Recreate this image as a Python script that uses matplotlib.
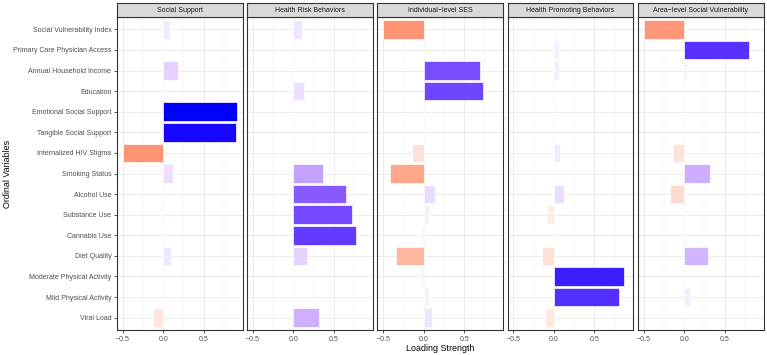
import matplotlib
matplotlib.use("Agg")
import matplotlib.pyplot as plt
import numpy as np

plt.rcParams["font.family"] = ["Liberation Sans", "DejaVu Sans"]

variables = [
    "Social Vulnerability Index",
    "Primary Care Physician Access",
    "Annual Household Income",
    "Education",
    "Emotional Social Support",
    "Tangible Social Support",
    "Internalized HIV Stigma",
    "Smoking Status",
    "Alcohol Use",
    "Substance Use",
    "Cannabis Use",
    "Diet Quality",
    "Moderate Physical Activity",
    "Mild Physical Activity",
    "Viral Load",
]

factors = [
    "Social Support",
    "Health Risk Behaviors",
    "Individual\u2212level SES",
    "Health Promoting Behaviors",
    "Area\u2212level Social Vulnerability",
]

social_support = [0.09, -0.01, 0.18, 0.01, 0.91, 0.90, -0.50, 0.12,
                  0.00, -0.04, -0.01, 0.095, 0.00, -0.02, -0.12]
health_risk = [0.10, 0.00, 0.00, 0.125, 0.00, 0.00, 0.00, 0.37,
               0.65, 0.72, 0.77, 0.17, 0.00, 0.00, 0.31]
individual_ses = [-0.50, 0.00, 0.70, 0.73, 0.00, 0.00, -0.14, -0.42,
                  0.14, 0.06, -0.04, -0.34, -0.05, 0.06, 0.10]
health_promoting = [0.01, 0.065, 0.065, 0.00, 0.00, 0.00, 0.08, 0.00,
                    0.13, -0.09, 0.01, -0.15, 0.86, 0.81, -0.11]
area_svi = [-0.49, 0.80, 0.04, 0.00, 0.00, 0.00, -0.135, 0.32,
            -0.17, 0.02, 0.02, 0.29, 0.00, 0.07, 0.02]

loadings = [social_support, health_risk, individual_ses, health_promoting, area_svi]


# diverging red-white-blue fill, interpolated in CIELAB like ggplot's gradient2
def srgb_to_lab(rgb):
    c = np.asarray(rgb, dtype=float)
    lin = np.where(c <= 0.04045, c / 12.92, ((c + 0.055) / 1.055) ** 2.4)
    m = np.array([[0.4124, 0.3576, 0.1805],
                  [0.2126, 0.7152, 0.0722],
                  [0.0193, 0.1192, 0.9505]])
    xyz = m @ lin / np.array([0.95047, 1.0, 1.08883])
    f = np.where(xyz > 0.008856, np.cbrt(xyz), 7.787 * xyz + 16 / 116)
    return np.array([116 * f[1] - 16, 500 * (f[0] - f[1]), 200 * (f[1] - f[2])])


def lab_to_srgb(lab):
    L, a, b = lab
    fy = (L + 16) / 116
    f = np.array([fy + a / 500, fy, fy - b / 200])
    xyz = np.where(f ** 3 > 0.008856, f ** 3, (f - 16 / 116) / 7.787)
    xyz = xyz * np.array([0.95047, 1.0, 1.08883])
    m = np.array([[3.2406, -1.5372, -0.4986],
                  [-0.9689, 1.8758, 0.0415],
                  [0.0557, -0.2040, 1.0570]])
    lin = np.clip(m @ xyz, 0, 1)
    c = np.where(lin <= 0.0031308, 12.92 * lin, 1.055 * lin ** (1 / 2.4) - 0.055)
    return np.clip(c, 0, 1)


lab_low = srgb_to_lab([1, 0, 0])
lab_mid = srgb_to_lab([1, 1, 1])
lab_high = srgb_to_lab([0, 0, 1])
vmax = max(abs(v) for col in loadings for v in col)


def fill_colour(v):
    t = v / vmax
    end = lab_high if t >= 0 else lab_low
    return lab_to_srgb(lab_mid + abs(t) * (end - lab_mid))


W, H = 767, 355
fig = plt.figure(figsize=(W / 100, H / 100), dpi=100)

left_px, right_px, gap_px = 117, 763.5, 4.7
top_px, bottom_px, strip_top = 17, 330, 3
pw = (right_px - left_px - gap_px * (len(factors) - 1)) / len(factors)

allv = np.array(loadings)
rng = allv.max() - allv.min()
xlim = (allv.min() - 0.05 * rng, allv.max() + 0.05 * rng)

tick_col = "#4D4D4D"
border_col = "#333333"
y = np.arange(len(variables))

for i, (name, vals) in enumerate(zip(factors, loadings)):
    x0 = left_px + i * (pw + gap_px)
    ax = fig.add_axes([x0 / W, 1 - bottom_px / H, pw / W, (bottom_px - top_px) / H])
    ax.barh(y, vals, height=0.9, color=[fill_colour(v) for v in vals],
            edgecolor="white", linewidth=0.5, zorder=3)
    ax.set_xlim(xlim)
    ax.set_ylim(len(variables) - 0.4, -0.6)
    ax.set_xticks([-0.5, 0.0, 0.5])
    ax.set_xticklabels(["\u22120.5", "0.0", "0.5"])
    ax.set_xticks([-0.25, 0.25, 0.75], minor=True)
    ax.set_yticks(y)
    ax.grid(True, which="major", color="#EBEBEB", linewidth=0.7, zorder=0)
    ax.grid(True, which="minor", axis="x", color="#EBEBEB", linewidth=0.35, zorder=0)
    ax.set_axisbelow(True)
    ax.tick_params(axis="both", which="major", length=2.5, width=0.6, color=border_col,
                   labelsize=5.0, labelcolor=tick_col, pad=1.5)
    ax.tick_params(axis="x", which="minor", length=0)
    if i == 0:
        ax.set_yticklabels(variables)
    else:
        ax.tick_params(axis="y", left=False, labelleft=False)
    for s in ax.spines.values():
        s.set_color(border_col)
        s.set_linewidth(0.8)

    sax = fig.add_axes([x0 / W, 1 - top_px / H, pw / W, (top_px - strip_top) / H])
    sax.set_facecolor("#D9D9D9")
    sax.set_xticks([])
    sax.set_yticks([])
    for s in sax.spines.values():
        s.set_color(border_col)
        s.set_linewidth(0.8)
    sax.text(0.5, 0.5, name, ha="center", va="center", fontsize=5.0,
             color="#1A1A1A", transform=sax.transAxes)

fig.text((left_px + right_px) / 2 / W, 1 - 348.5 / H, "Loading Strength",
         ha="center", va="center", fontsize=6.4)
fig.text(8 / W, 1 - (top_px + bottom_px) / 2 / H, "Ordinal Variables",
         ha="center", va="center", rotation=90, fontsize=6.4)

fig.savefig("out.png", dpi=100)
